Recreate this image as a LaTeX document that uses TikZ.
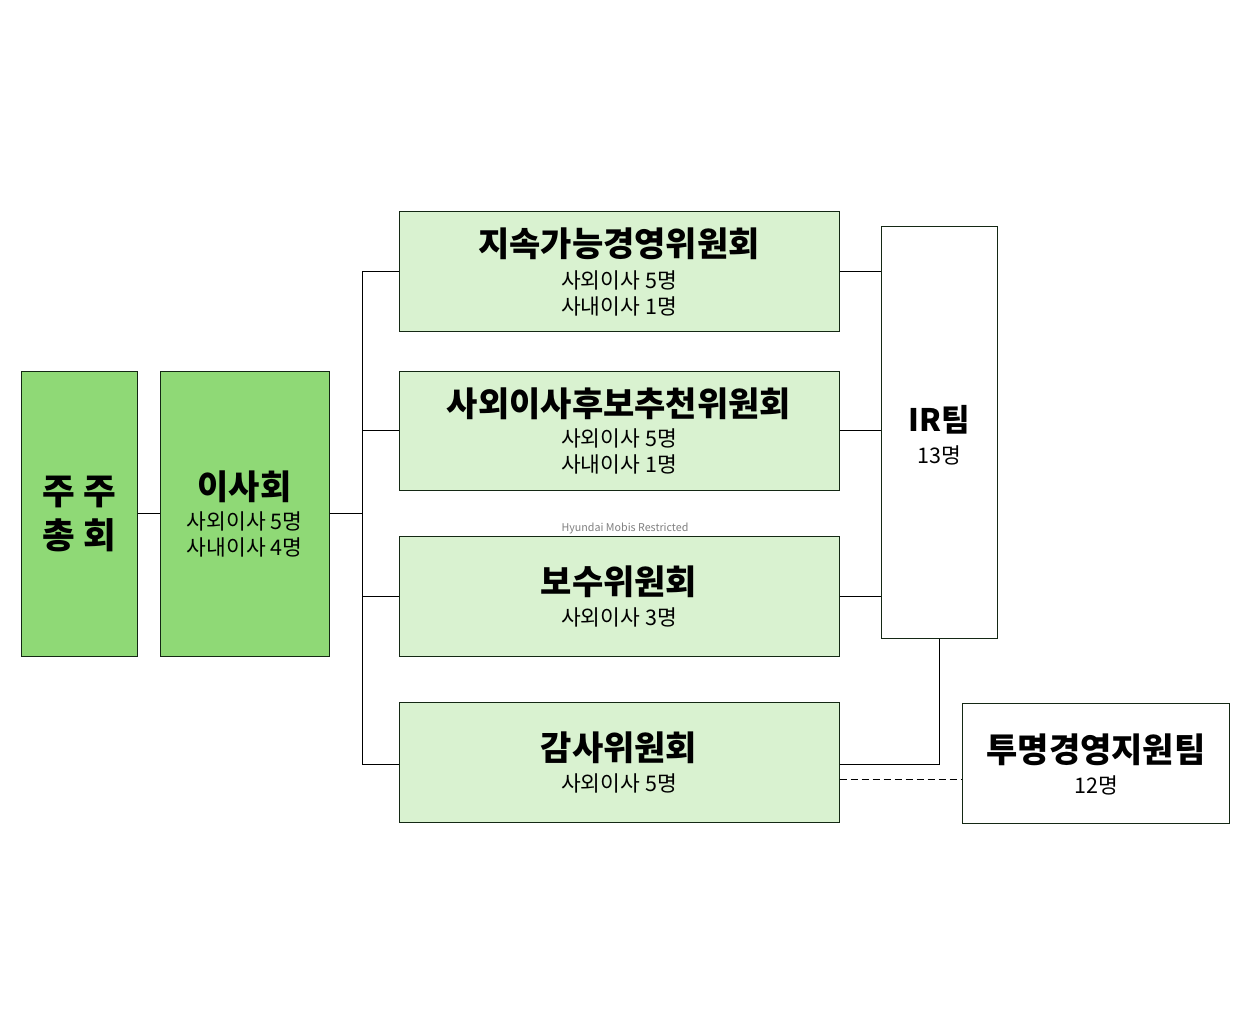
\documentclass[tikz,border=0pt]{standalone}
\usepackage{fontspec}
\setmainfont{Noto Sans CJK KR}
\definecolor{dgreen}{HTML}{8FD976}
\definecolor{lgreen}{HTML}{D9F2D0}
\definecolor{edge}{HTML}{142814}
\definecolor{wm}{HTML}{7F7F7F}
\tikzset{
  box/.style={draw=edge, line width=1pt, inner sep=0pt},
  conn/.style={draw=black, line width=1pt},
  ttl/.style={font=\fontsize{34}{38}\selectfont\bfseries, inner sep=0pt},
  irttl/.style={font=\fontsize{31}{36}\selectfont\bfseries, inner sep=0pt},
  big/.style={font=\fontsize{35.5}{40}\selectfont\bfseries, inner sep=0pt},
  sub/.style={font=\fontsize{21.5}{25}\selectfont, inner sep=0pt},
}
\begin{document}
\begin{tikzpicture}[x=1pt,y=-1pt]
\useasboundingbox (0,0) rectangle (1250,1028);
% boxes
\node[box, fill=dgreen, minimum width=116pt, minimum height=285pt] (gm) at (79,513.5) {};
\node[box, fill=dgreen, minimum width=169pt, minimum height=285pt] (bd) at (244.5,513.5) {};
\node[box, fill=lgreen, minimum width=440pt, minimum height=120pt] (c1) at (619,271) {};
\node[box, fill=lgreen, minimum width=440pt, minimum height=119pt] (c2) at (619,430.5) {};
\node[box, fill=lgreen, minimum width=440pt, minimum height=120pt] (c3) at (619,596) {};
\node[box, fill=lgreen, minimum width=440pt, minimum height=120pt] (c4) at (619,762) {};
\node[box, fill=white, minimum width=116pt, minimum height=412pt] (ir) at (939,432) {};
\node[box, fill=white, minimum width=267pt, minimum height=120pt] (tm) at (1095.5,763) {};
% texts
\node[big] (gm1) at (79,492) {주 주};
\node[big] (gm2) at (79,535) {총 회};
\node[ttl] (bdt) at (244.5,487) {이사회};
\node[sub] (bds1) at (244.5,521) {사외이사 5명};
\node[sub] (bds2) at (244.5,547) {사내이사 4명};
\node[ttl] (c1t) at (619,244) {지속가능경영위원회};
\node[sub] (c1s1) at (619,280) {사외이사 5명};
\node[sub] (c1s2) at (619,306) {사내이사 1명};
\node[ttl] (c2t) at (619,404) {사외이사후보추천위원회};
\node[sub] (c2s1) at (619,438) {사외이사 5명};
\node[sub] (c2s2) at (619,464) {사내이사 1명};
\node[ttl] (c3t) at (619,582) {보수위원회};
\node[sub] (c3s1) at (619,617) {사외이사 3명};
\node[ttl] (c4t) at (619,748) {감사위원회};
\node[sub] (c4s1) at (619,783) {사외이사 5명};
\node[irttl] (irt) at (939,420) {IR팀};
\node[sub] (irs) at (939,455) {13명};
\node[ttl] (tmt) at (1096,750) {투명경영지원팀};
\node[sub] (tms) at (1096,785) {12명};
\node[font=\fontsize{10.7}{12}\selectfont, text=wm, inner sep=0pt] (wmk) at (625,528) {Hyundai Mobis Restricted};
% connectors
\coordinate (bt) at (362,271);
\coordinate (bb) at (362,764);
\draw[conn] (gm.east) -- (bd.west);
\draw[conn] (bt) -- (bb);
\draw[conn] (bd.east) -- (bd.east -| bt);
\draw[conn] (c1.west) -- (c1.west -| bt);
\draw[conn] (c2.west) -- (c2.west -| bt);
\draw[conn] (c3.west) -- (c3.west -| bt);
\draw[conn] (bb) -- (bb -| c4.west);
\draw[conn] (c1.east) -- (c1.east -| ir.west);
\draw[conn] (c2.east) -- (c2.east -| ir.west);
\draw[conn] (c3.east) -- (c3.east -| ir.west);
\coordinate (ae) at (bb -| c4.east);
\draw[conn] (ae) -- (ae -| ir.south) -- (ir.south);
\coordinate (dl) at ([yshift=-17pt]c4.east);
\draw[conn, dash pattern=on 7pt off 4pt] (dl) -- (dl -| tm.west);
\end{tikzpicture}
\end{document}
